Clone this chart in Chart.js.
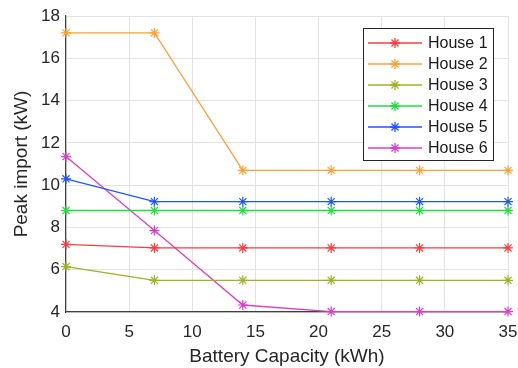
<!DOCTYPE html>
<html>
<head>
<meta charset="utf-8">
<script src="https://cdn.jsdelivr.net/npm/chart.js@4"></script>
<style>
  html, body { margin: 0; padding: 0; background: #fff; }
  #wrap { width: 518px; height: 368px; }
</style>
</head>
<body>
<div id="wrap"><canvas id="chart" width="518" height="368"></canvas></div>
<script>
// battery sizes (kWh)
const capacity = [0, 7, 14, 21, 28, 35];

// peak import per house (kW)
const house1 = [7.2, 7.03, 7.03, 7.03, 7.03, 7.03];
const house2 = [17.2, 17.2, 10.7, 10.7, 10.7, 10.7];
const house3 = [6.15, 5.5, 5.5, 5.5, 5.5, 5.5];
const house4 = [8.8, 8.8, 8.8, 8.8, 8.8, 8.8];
const house5 = [10.3, 9.22, 9.22, 9.22, 9.22, 9.22];
const house6 = [11.35, 7.85, 4.33, 4.02, 4.02, 4.02];

const labels = ['House 1', 'House 2', 'House 3', 'House 4', 'House 5', 'House 6'];
const colors = ['#ff3b3b', '#ffa033', '#9cb420', '#1ee03c', '#1f55ff', '#e03cc8'];
const series = [house1, house2, house3, house4, house5, house6];

const xTicks = [0, 5, 10, 15, 20, 25, 30, 35];
const yTicks = [4, 6, 8, 10, 12, 14, 16, 18];

const fontFam = '"Liberation Sans", Arial, sans-serif';

const datasets = series.map((vals, i) => ({
    label: labels[i],
    data: vals.map((v, j) => ({ x: capacity[j], y: v })),
    borderColor: colors[i],
    backgroundColor: colors[i],
    borderWidth: 1.3,
    pointStyle: 'star',
    pointRadius: 5,
    pointBorderWidth: 1.2,
    fill: false,
    tension: 0,
    clip: false
}));

// legend drawn inside the plot, matlab style
const boxLegend = {
    id: 'boxLegend',
    afterDraw(chart) {
        const ctx = chart.ctx;
        const x0 = 363, y0 = 28, w = 130, h = 132;
        ctx.save();
        ctx.fillStyle = '#fff';
        ctx.fillRect(x0, y0, w, h);
        ctx.strokeStyle = '#262626';
        ctx.lineWidth = 1;
        ctx.strokeRect(x0 + 0.5, y0 + 0.5, w, h);
        ctx.font = '16px ' + fontFam;
        ctx.textBaseline = 'middle';
        chart.data.datasets.forEach((ds, i) => {
            const cy = y0 + 15 + i * 21;
            ctx.strokeStyle = ds.borderColor;
            ctx.lineWidth = 1.3;
            ctx.beginPath();
            ctx.moveTo(368, cy);
            ctx.lineTo(422, cy);
            ctx.stroke();
            Chart.helpers.drawPoint(ctx, { pointStyle: 'star', radius: 5, borderWidth: 1.2 }, 395, cy);
            ctx.fillStyle = '#1a1a1a';
            ctx.fillText(ds.label, 428, cy + 1);
        });
        ctx.restore();
    }
};

new Chart(document.getElementById('chart'), {
    type: 'line',
    data: { datasets: datasets },
    options: {
        responsive: false,
        animation: false,
        layout: { padding: { top: 16, right: 0, left: 0, bottom: 0 } },
        plugins: { legend: { display: false }, tooltip: { enabled: false } },
        scales: {
            x: {
                type: 'linear',
                min: 0,
                max: 35,
                afterBuildTicks: axis => { axis.ticks = xTicks.map(v => ({ value: v })); },
                afterFit: axis => { axis.height = 56; axis.paddingRight = 10; axis.paddingLeft = 0; },
                grid: { color: '#e3e3e3', drawTicks: false },
                border: { color: '#404040', width: 1.2 },
                ticks: { color: '#262626', font: { size: 17, family: fontFam }, padding: 10, maxRotation: 0 },
                title: { display: true, text: 'Battery Capacity (kWh)', color: '#262626', font: { size: 19, family: fontFam }, padding: { top: 0, bottom: 0 } }
            },
            y: {
                min: 4,
                max: 18,
                afterBuildTicks: axis => { axis.ticks = yTicks.map(v => ({ value: v })); },
                afterFit: axis => { axis.width = 66; axis.paddingTop = 0; axis.paddingBottom = 0; },
                grid: { color: '#e3e3e3', drawTicks: false },
                border: { color: '#404040', width: 1.2 },
                ticks: { color: '#262626', font: { size: 17, family: fontFam }, padding: 6 },
                title: { display: true, text: 'Peak import (kW)', color: '#262626', font: { size: 19, family: fontFam }, padding: { top: 10, bottom: 0 } }
            }
        }
    },
    plugins: [boxLegend]
});
</script>
</body>
</html>
